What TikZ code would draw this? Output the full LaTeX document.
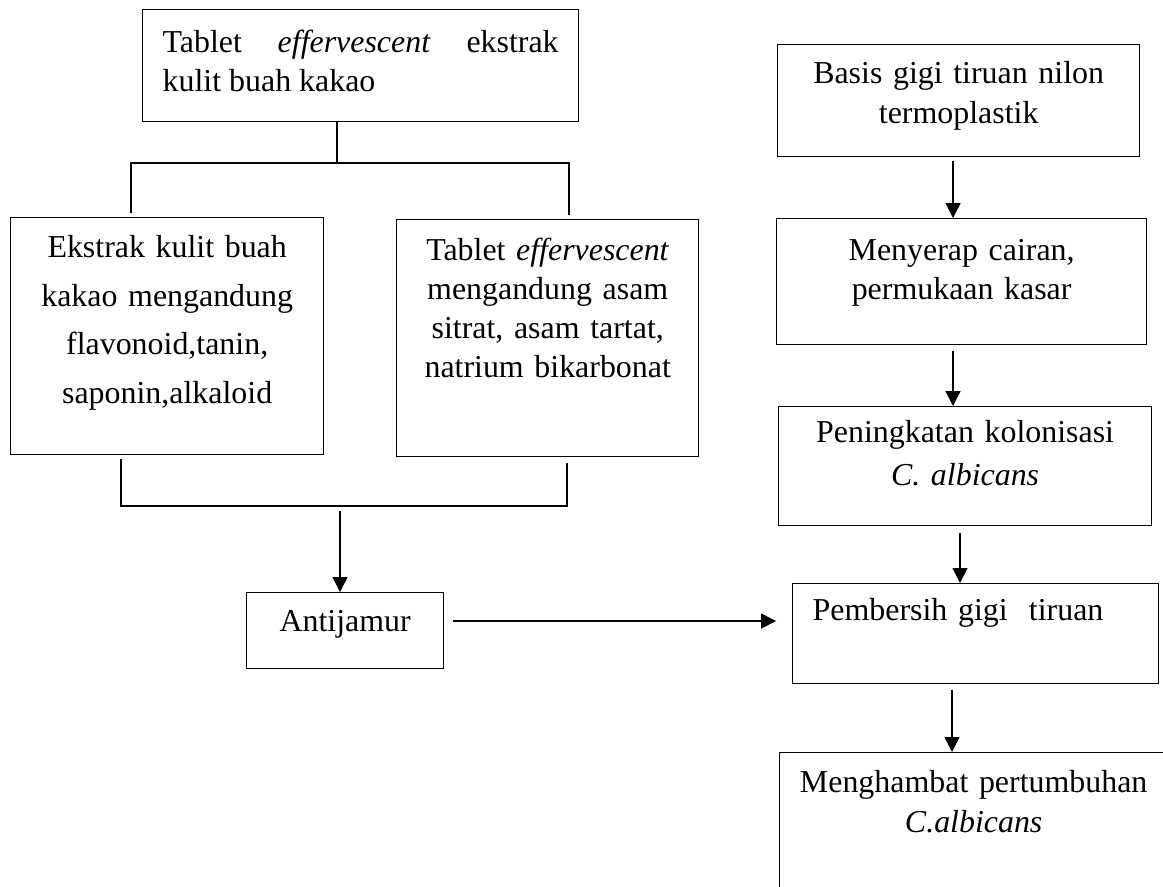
\documentclass[tikz,border=0pt]{standalone}
\usepackage{fontspec}
\setmainfont{Liberation Serif}
\usetikzlibrary{arrows.meta,positioning}
\hyphenpenalty=10000
\exhyphenpenalty=10000
\tolerance=10000

\begin{document}
\begin{tikzpicture}
[x=0.376pt, y=-0.376pt, line width=0.5pt,
>={Triangle[width=5.6pt,length=5.6pt]},
% STYLES
every node/.style={font=\fontsize{12}{14.7}\selectfont},
box/.style={rectangle, draw, anchor=north west, inner xsep=0pt, inner ysep=0pt, align=center},
padded/.style={box, inner xsep=7.52pt}]

\useasboundingbox (0,0) rectangle (1163,886);
\clip (0,0) rectangle (1163,886);

% left side
\node [padded, align=justify, text width=148.9pt, text height=16.2pt, text depth=25.9pt] (tablet-kakao) at (142,9) {Tablet \textit{effervescent} ekstrak kulit buah kakao};
\node [box, text width=117.7pt, text height=15pt, text depth=74.1pt, font=\fontsize{12}{18.3}\selectfont] (ekstrak) at (10,217) {Ekstrak kulit buah\\kakao mengandung\\flavonoid,tanin,\\saponin,alkaloid};
\node [box, text width=113.6pt, text height=15.4pt, text depth=73.7pt] (tablet-asam) at (396,219) {Tablet \textit{effervescent}\\mengandung asam\\sitrat, asam tartat,\\natrium bikarbonat};
\node [box, text width=74.1pt, text height=14.5pt, text depth=14pt] (antijamur) at (246,592) {Antijamur};

% right side
\node [box, text width=136.1pt, text height=14.7pt, text depth=27.4pt, font=\fontsize{12}{15}\selectfont] (basis) at (777,44) {Basis gigi tiruan nilon\\termoplastik};
\node [box, text width=139.1pt, text height=15.8pt, text depth=31.6pt, font=\fontsize{12}{14.5}\selectfont] (menyerap) at (776,218) {Menyerap cairan,\\permukaan kasar};
\node [box, text width=140.2pt, text height=13.5pt, text depth=31.3pt, font=\fontsize{12}{16}\selectfont] (kolonisasi) at (778,406) {Peningkatan kolonisasi\\\textit{C. albicans}};
\node [padded, align=left, text width=122.6pt, text height=14pt, text depth=23.6pt] (pembersih) at (792,583) {Pembersih gigi\ \ tiruan};
\node [box, text width=145.9pt, text height=15pt, text depth=51.9pt, font=\fontsize{12}{15}\selectfont] (hambat) at (779,752) {Menghambat pertumbuhan\\\textit{C.albicans}};

%%%%%%%%%%%%%%%%

% points for the brackets and the arrow columns
\coordinate (split) at (337,163);
\coordinate (split-l) at (131,163);
\coordinate (split-r) at (569,163);
\coordinate (join-l) at (121,506);
\coordinate (join-r) at (567,506);
\coordinate (join) at (340,511);
\coordinate (col-a) at (953,0);
\coordinate (col-b) at (960,0);
\coordinate (col-c) at (952,0);
\coordinate (row-a) at (0,621);

\draw (tablet-kakao.south -| split) -- (split);
\draw[shorten <=1.5pt, shorten >=1.5pt] (ekstrak.north -| split-l) -- (split-l) -- (split-r) -- (tablet-asam.north -| split-r);
\draw[shorten <=1.5pt, shorten >=2pt] (ekstrak.south -| join-l) -- (join-l) -- (join-r) -- (tablet-asam.south -| join-r);
\draw[->] (join) -- (antijamur.north -| join);

\draw[->, shorten <=3.4pt, shorten >=6pt] (antijamur.east |- row-a) -- (pembersih.west |- row-a);

\draw[->, shorten <=1.5pt] (basis.south -| col-a) -- (menyerap.north -| col-a);
\draw[->, shorten <=2pt] (menyerap.south -| col-a) -- (kolonisasi.north -| col-a);
\draw[->, shorten <=2.5pt] (kolonisasi.south -| col-b) -- (pembersih.north -| col-b);
\draw[->, shorten <=2pt] (pembersih.south -| col-c) -- (hambat.north -| col-c);

\end{tikzpicture}
\end{document}
